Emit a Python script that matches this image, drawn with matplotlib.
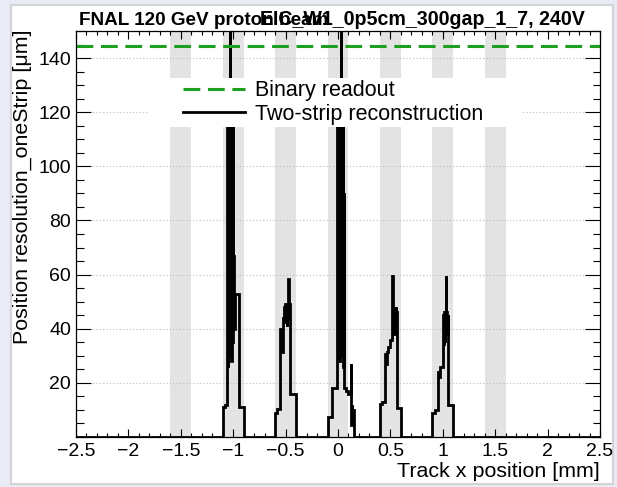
import numpy as np
import matplotlib.pyplot as plt
from matplotlib.patches import Rectangle
from matplotlib.lines import Line2D
from matplotlib.ticker import MultipleLocator

plt.rcParams['font.family'] = ['Liberation Sans', 'DejaVu Sans']
plt.rcParams['path.simplify'] = False

# strip metal positions (gray bands), width 0.2 mm
strip_centers = [-1.5, -1.0, -0.5, 0.0, 0.5, 1.0, 1.5]
strip_width = 0.2

# binary readout resolution [um]
binary_res = 144.3

# two-strip reconstruction, one histogram piece per strip (bin edges in mm, values in um)
edges_m10 = [-1.10, -1.08, -1.06, -1.055, -1.05, -1.045, -1.04, -1.035, -1.03, -1.025,
             -1.02, -1.015, -1.01, -1.005, -1.00, -0.99, -0.985, -0.945, -0.90]
vals_m10 = [11.2, 12.0, 25, 125, 26, 118, 40, 165, 30, 112,
            28, 100, 35, 115, 67, 40, 53, 11.2]

edges_m05 = [-0.60, -0.58, -0.555, -0.535, -0.53, -0.525, -0.52, -0.515, -0.51, -0.505,
             -0.50, -0.495, -0.49, -0.485, -0.48, -0.475, -0.47, -0.465, -0.455, -0.40]
vals_m05 = [9, 10.5, 40, 38, 31.5, 44, 42, 48, 44, 49,
            43, 47, 41, 49, 44, 58.5, 48, 49, 16]

edges_000 = [-0.10, -0.055, -0.005, 0.0, 0.005, 0.01, 0.015, 0.02, 0.025, 0.03,
             0.035, 0.04, 0.045, 0.05, 0.055, 0.06, 0.08, 0.10, 0.12, 0.125,
             0.13, 0.135, 0.14, 0.15]
vals_000 = [7.5, 18, 120, 30, 125, 28, 100, 40, 170, 35,
            130, 30, 122, 26, 90, 18, 17, 16, 27, 4.5,
            12, 5, 10]

edges_p05 = [0.40, 0.42, 0.45, 0.46, 0.465, 0.475, 0.50, 0.515, 0.52, 0.525,
             0.53, 0.535, 0.54, 0.545, 0.55, 0.555, 0.56, 0.60]
vals_p05 = [12.2, 13, 30.7, 27, 31.5, 33.4, 36, 36, 59.5,
            40, 48, 38, 47, 44, 48, 46, 10.6]

edges_p10 = [0.90, 0.925, 0.95, 0.965, 0.97, 1.00, 1.005, 1.01, 1.015, 1.02,
             1.025, 1.03, 1.035, 1.04, 1.045, 1.05, 1.10]
vals_p10 = [9, 10, 24, 22, 26, 33, 45, 34, 46, 35,
            44, 59.5, 46, 38, 45, 11.8]

peaks = [(edges_m10, vals_m10), (edges_m05, vals_m05), (edges_000, vals_000),
         (edges_p05, vals_p05), (edges_p10, vals_p10)]

# join pieces into one histogram over the full range, empty in between
edges = [-2.5]
vals = []
for e, v in peaks:
    vals.append(0)
    edges.extend(e)
    vals.extend(v)
vals.append(0)
edges.append(2.5)

fig = plt.figure(figsize=(6.17, 4.87), dpi=100)
fig.patch.set_facecolor('#e9ecf5')
fig.add_artist(Rectangle((11/617, 1-484/487), 602/617, 479/487, transform=fig.transFigure,
                         facecolor='white', edgecolor='#d4d4d4', lw=1.5, zorder=0))

ax = fig.add_axes([76/617, 50/487, 524/617, 406/487])
ax.set_xlim(-2.5, 2.5)
ax.set_ylim(0, 150)

for c in strip_centers:
    ax.axvspan(c - strip_width/2, c + strip_width/2, color='#e3e3e3', lw=0, zorder=0.5)

ax.yaxis.grid(True, ls=(0, (1, 2)), color='#bbbbbb', lw=0.8)

ax.stairs(vals, edges, color='black', lw=2.0, zorder=2)
ax.axhline(binary_res, color='#1f9f1f', lw=2.2, ls=(0, (5.5, 2.5)), zorder=2.5)

# legend box
ax.add_patch(Rectangle((0.14, 0.764), 0.71, 0.121, transform=ax.transAxes,
                       facecolor='white', edgecolor='none', zorder=4))
handles = [Line2D([], [], color='#1f9f1f', lw=2.2, ls=(0, (5.5, 2.5))),
           Line2D([], [], color='black', lw=2.0)]
leg = ax.legend(handles, ['Binary readout', 'Two-strip reconstruction'],
                loc='center left', bbox_to_anchor=(0.204, 0.824), frameon=False,
                fontsize=15.5, handlelength=2.88, handletextpad=0.47, labelspacing=0.12,
                borderpad=0, borderaxespad=0)
leg.set_zorder(5)

ax.set_yticks([20, 40, 60, 80, 100, 120, 140])
ax.yaxis.set_minor_locator(MultipleLocator(5))
ax.xaxis.set_minor_locator(MultipleLocator(0.1))
ax.set_xticks(np.arange(-2.5, 2.51, 0.5))
ax.set_xticklabels(['\u22122.5', '\u22122', '\u22121.5', '\u22121', '\u22120.5', '0',
                    '0.5', '1', '1.5', '2', '2.5'])
ax.tick_params(axis='both', which='both', direction='in', top=True, right=True, width=0.8)
ax.tick_params(axis='x', which='major', length=5.8, labelsize=14, pad=4)
ax.tick_params(axis='x', which='minor', length=3.2)
ax.tick_params(axis='y', which='major', length=10.8, labelsize=14, pad=3.5)
ax.tick_params(axis='y', which='minor', length=5.4)
for s in ax.spines.values():
    s.set_linewidth(0.9)

ax.set_xlabel('Track x position [mm]', fontsize=15.4, loc='right')
ax.xaxis.set_label_coords(1.0, -0.062)
ax.set_ylabel('Position resolution_oneStrip [\u03bcm]', fontsize=15.4, loc='top')
ax.yaxis.set_label_coords(-0.084, 1.004)

# two overlapping title texts, as drawn in the original canvas
fig.text(79/617, 1-25/487, 'FNAL 120 GeV proton beam', fontsize=13.6, fontweight='bold',
         ha='left', va='baseline')
fig.text(585/617, 1-25/487, 'EIC_W1_0p5cm_300gap_1_7, 240V', fontsize=14.1, fontweight='bold',
         ha='right', va='baseline')

fig.savefig('out.png', dpi=100, facecolor=fig.get_facecolor())
